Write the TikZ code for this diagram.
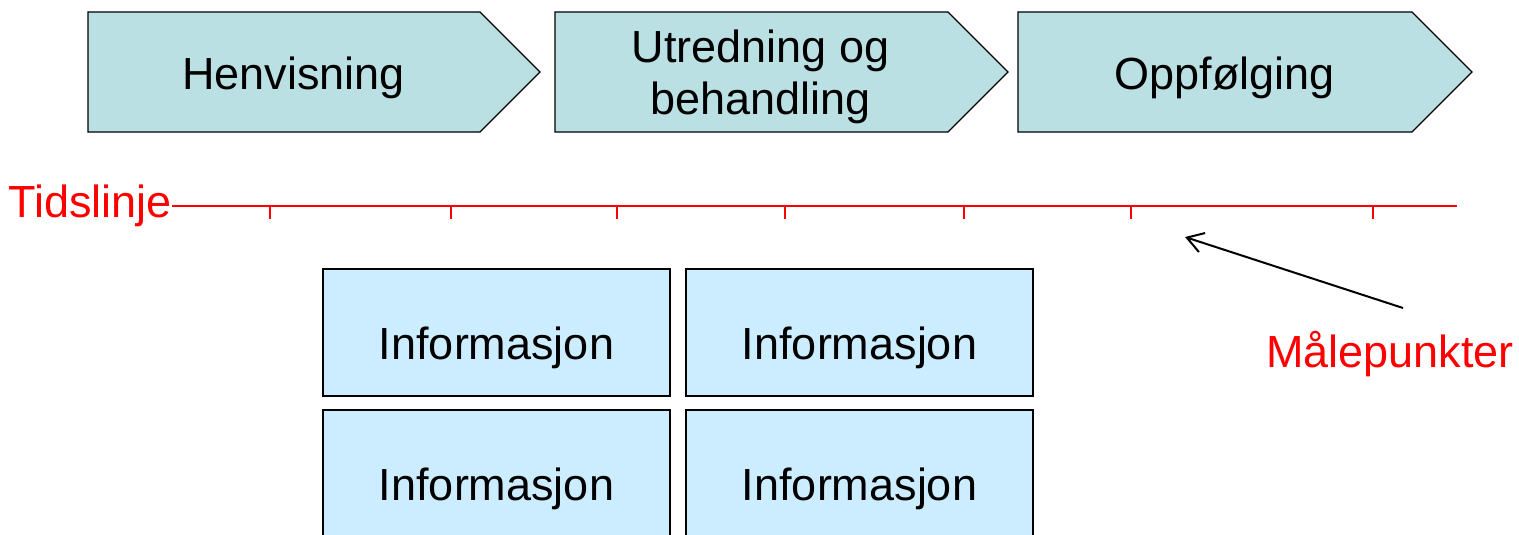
\documentclass[tikz,border=0pt]{standalone}
\usepackage{fontspec}
\setmainfont{Liberation Sans}
\usepackage{tikz}
\usetikzlibrary{positioning,arrows.meta}
\definecolor{fasefarge}{RGB}{187,224,227}
\definecolor{infofarge}{RGB}{204,236,255}

\begin{document}
\begin{tikzpicture}[x=1pt, y=-1pt,
    fase/.style={draw=black, line width=1.2pt, fill=fasefarge},
    tekst/.style={font=\fontsize{45}{52}\selectfont, inner sep=0pt},
    info/.style={draw=black, line width=1.5pt, fill=infofarge, outer sep=0pt,
      minimum width=347pt, minimum height=127pt, font=\fontsize{45}{52}\selectfont,
      text height=53pt, text depth=0pt}
  ]
      \useasboundingbox (0,0) rectangle (1519,535);
      \clip (0,0) rectangle (1519,535);

      % Faser
      \draw[fase] (88,12) -- (480,12) -- (540,72) -- (480,132) -- (88,132) -- cycle;
      \draw[fase] (555,12) -- (948,12) -- (1008,72) -- (948,132) -- (555,132) -- cycle;
      \draw[fase] (1018,12) -- (1412,12) -- (1472,72) -- (1412,132) -- (1018,132) -- cycle;
      \node[tekst, anchor=base] (henv) at (293.5,90) {Henvisning};
      \node[tekst, align=center] (utred) at (760.5,77) {Utredning og\\behandling};
      \node[tekst, anchor=base] (oppf) at (1224.5,90) {Oppfølging};

      % Tidslinje
      \node[tekst, text=red, anchor=base east] (tid) at (172,217) {Tidslinje};
      \coordinate (slutt) at (1457,206);
      \draw[red, line width=1.5pt] (tid.east |- slutt) -- (slutt);
      \foreach \x in {270,451,617,785,964,1131,1373}
        \draw[red, line width=1.2pt] (\x,207) -- (\x,219);

      % Informasjon
      \node[info] (info1) at (496.5,332.5) {Informasjon};
      \node[info, right=16pt of info1] (info2) {Informasjon};
      \node[info, below=14pt of info1] (info3) {Informasjon};
      \node[info, right=16pt of info3] (info4) {Informasjon};

      % Målepunkter
      \node[tekst, text=red, anchor=base west] (maal) at (1266,367) {Målepunkter};
      \coordinate (pilstart) at (1403,308);
      \coordinate (pilspiss) at (1185,237);
      \draw[-{Straight Barb[length=16pt,width=20pt]}, line width=2pt] (pilstart) -- (pilspiss);
    \end{tikzpicture}
\end{document}
